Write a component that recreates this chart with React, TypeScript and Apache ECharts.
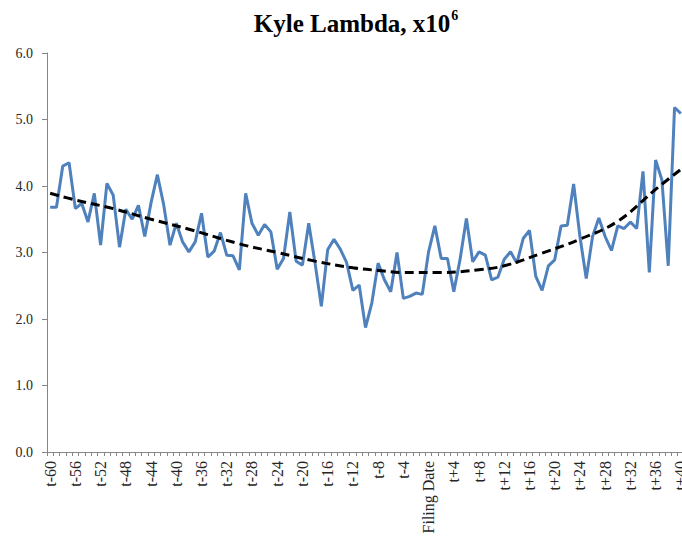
import React, { useEffect, useRef } from "react";
import * as echarts from "echarts";

const offsets: number[] = [];
for (let i = -60; i <= 40; i++) offsets.push(i);
const categories = offsets.map((i) => (i === 0 ? "Filing Date" : i < 0 ? `t${i}` : `t+${i}`));

const lambda = [
  3.68, 3.68, 4.30, 4.35, 3.66, 3.74, 3.46, 3.89, 3.11, 4.04,
  3.86, 3.08, 3.65, 3.50, 3.71, 3.24, 3.75, 4.17, 3.72, 3.11,
  3.44, 3.16, 3.01, 3.16, 3.59, 2.93, 3.02, 3.30, 2.96, 2.95,
  2.74, 3.89, 3.44, 3.26, 3.42, 3.31, 2.75, 2.91, 3.61, 2.87,
  2.81, 3.44, 2.84, 2.19, 3.04, 3.20, 3.05, 2.85, 2.43, 2.51,
  1.87, 2.24, 2.84, 2.59, 2.41, 3.00, 2.31, 2.34, 2.39, 2.37,
  3.01, 3.40, 2.91, 2.91, 2.41, 2.90, 3.51, 2.86, 3.01, 2.96,
  2.59, 2.63, 2.90, 3.01, 2.84, 3.21, 3.33, 2.64, 2.43, 2.80,
  2.89, 3.40, 3.41, 4.03, 3.24, 2.61, 3.24, 3.52, 3.24, 3.03,
  3.40, 3.36, 3.46, 3.36, 4.22, 2.70, 4.39, 4.09, 2.80, 5.18,
  5.09,
];

const trendIdx = [0, 4, 10, 16, 22, 30, 36, 42, 48, 52, 56, 62, 68, 72, 78, 84, 90, 96, 100];
const trendVal = [3.89, 3.79, 3.66, 3.50, 3.35, 3.13, 3.00, 2.87, 2.77, 2.73, 2.70, 2.70, 2.74, 2.80, 2.99, 3.20, 3.47, 3.95, 4.25];

const FONT = "'Liberation Serif', 'DejaVu Serif', serif";

export default function App() {
  const ref = useRef<HTMLDivElement>(null);
  useEffect(() => {
    if (!ref.current) return;
    const chart = echarts.init(ref.current, null, { renderer: "svg" });
    chart.setOption({
      animation: false,
      backgroundColor: "#ffffff",
      title: {
        text: "{a|Kyle Lambda, x10}{b|6}",
        left: 351,
        top: 3,
        textAlign: "center",
        textStyle: {
          rich: {
            a: { fontFamily: FONT, fontSize: 25, fontWeight: "bold", color: "#000", lineHeight: 30 },
            b: { fontFamily: FONT, fontSize: 14, fontWeight: "bold", color: "#000", verticalAlign: "top", lineHeight: 30, padding: [0, 0, 4, 1] },
          },
        },
      },
      grid: { left: 47, width: 637, top: 53, bottom: 95, containLabel: false, outerBoundsMode: "none" },
      xAxis: {
        type: "category",
        data: categories,
        boundaryGap: true,
        axisLine: { lineStyle: { color: "#868686", width: 1 } },
        axisTick: { show: true, interval: 0, length: 4, lineStyle: { color: "#868686" } },
        axisLabel: {
          interval: 3,
          rotate: 90,
          margin: 9,
          fontFamily: FONT,
          fontSize: 16,
          color: "#262626",
        },
        splitLine: { show: false },
      },
      yAxis: {
        type: "value",
        min: 0,
        max: 6,
        interval: 1,
        axisLine: { show: true, lineStyle: { color: "#868686", width: 1 } },
        axisTick: { show: true, length: 5, lineStyle: { color: "#868686" } },
        axisLabel: {
          formatter: (v: number) => v.toFixed(1),
          fontFamily: FONT,
          fontSize: 14,
          color: "#262626",
          margin: 14,
        },
        splitLine: { show: false },
      },
      series: [
        {
          type: "line",
          data: lambda,
          symbol: "none",
          lineStyle: { color: "#4F81BD", width: 3 },
          clip: false,
        },
        {
          type: "line",
          data: trendIdx.map((x, i) => [x, trendVal[i]]),
          symbol: "none",
          smooth: 0.4,
          lineStyle: { color: "#000000", width: 3, type: [9, 5] },
          clip: false,
        },
      ],
    });
    return () => chart.dispose();
  }, []);
  return <div ref={ref} style={{ position: "fixed", left: 0, top: 0, width: 682, height: 547 }} />;
}
